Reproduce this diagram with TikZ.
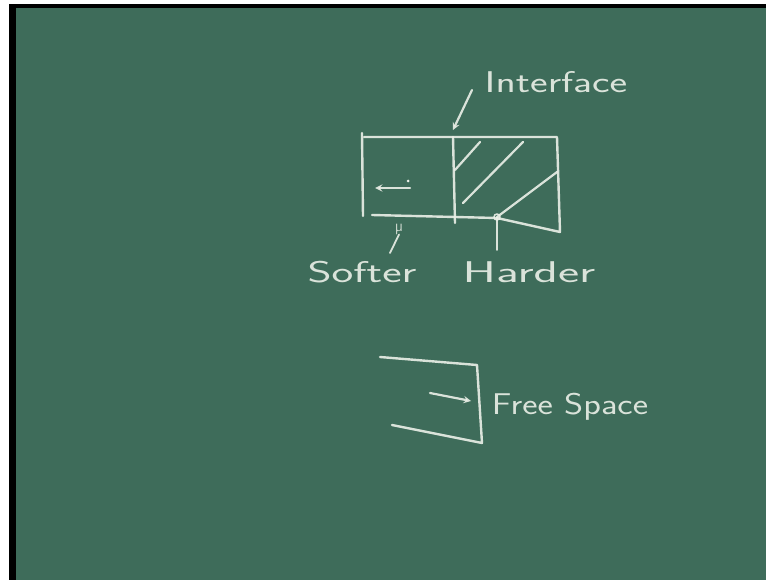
\documentclass[tikz,border=0pt]{standalone}
\usepackage{fontspec}
\usepackage{xcolor}
\usetikzlibrary{arrows,positioning,calc}

\definecolor{board}{RGB}{62,108,90}
\definecolor{chalk}{RGB}{236,240,232}

\begin{document}
\begin{tikzpicture}[
  x=1pt, y=-1pt,
  chalkline/.style={draw=chalk, line width=2.4pt, line cap=round, line join=round, opacity=0.9},
  hatch/.style={chalkline, line width=2.2pt},
  arrow/.style={chalkline, ->, >=stealth, line width=2.2pt},
  label/.style={text=chalk, font=\sffamily\fontsize{30}{32}\selectfont, xscale=1.4, inner sep=1pt, opacity=0.9},
]

% board and frame
\fill[white] (0,0) rectangle (766,580);
\fill[black] (9,4) rectangle (766,580);
\fill[board] (16,8) rectangle (766,580);
\useasboundingbox (0,0) rectangle (766,580);

% softer | harder block
\draw[chalkline] (362,133) -- (363,216);
\draw[chalkline] (364,137) -- (557,137) -- (560,232) -- (497,218) -- (372,215);
\draw[chalkline] (453,137) -- (455,223);
\draw[hatch] (455,170) -- (480,142);
\draw[hatch] (463,203) -- (523,142);
\draw[hatch] (497,217) -- (557,172);
\coordinate (hpt) at (497,217);
\draw[chalkline, line width=1.6pt] (hpt) circle (3);

% wave inside softer side
\coordinate (wtail) at (410,188);
\coordinate (whead) at (375,188);
\draw[arrow] (wtail) -- (whead);
\fill[chalk] (408,181) circle (1.5);

% labels
\node[label] (iface) at (556,82) {Interface};
\node[label, xscale=1.1] (soft) at (362,272) {Softer};
\node[label, xscale=1.2] (hard) at (529,272) {Harder};
\node[label, xscale=0.87] (free) at (570,407) {Free Space};
\node[text=chalk, font=\sffamily\fontsize{17}{17}\selectfont, opacity=0.9, inner sep=0pt] (mu) at (399,229) {µ};

\coordinate (itail) at (472,90);
\coordinate (ipt) at (453,130);
\draw[arrow] (itail) -- (ipt);
\coordinate (stail) at (390,253);
\draw[chalkline, line width=1.8pt] (stail) -- (mu.south);
\coordinate (htail) at (497,250);
\draw[chalkline, line width=1.8pt] (htail) -- (hpt);

% free space edge
\draw[chalkline] (380,357) -- (477,365) -- (482,443) -- (392,425);
\coordinate (ftail) at (430,393);
\coordinate (fhead) at (471,401);
\draw[arrow] (ftail) -- (fhead);

\end{tikzpicture}
\end{document}
